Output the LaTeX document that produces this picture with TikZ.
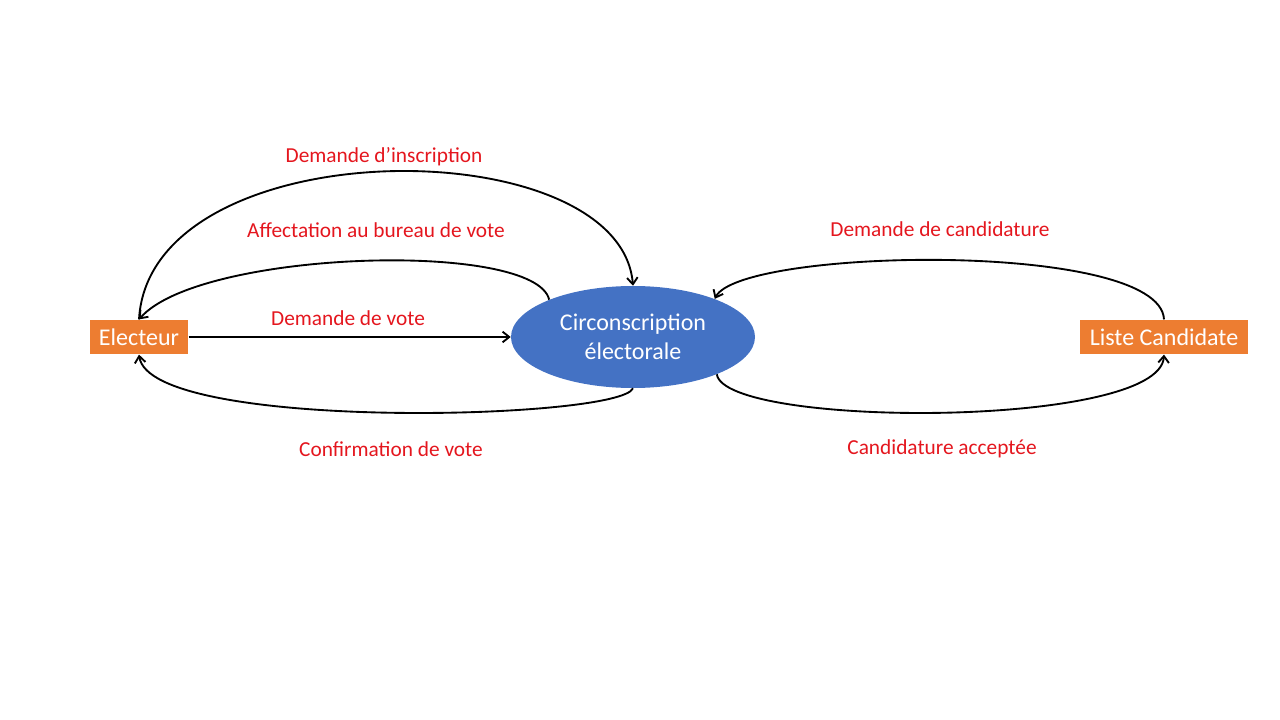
\documentclass[tikz,border=0pt]{standalone}
\usepackage{fontspec}
\setmainfont{Carlito}
\usepackage{xcolor}
\usepackage{tikz}
\usetikzlibrary{shapes.geometric,arrows.meta,positioning}

\definecolor{orangebox}{HTML}{ED7D31}
\definecolor{bleuproc}{HTML}{4472C4}
\definecolor{rougelib}{RGB}{228,22,30}

\begin{document}
\begin{tikzpicture}[
	x=0.75pt, y=-0.75pt,
	>={Straight Barb[length=5pt,width=8pt]},
	acteur/.style={rectangle, fill=orangebox, text=white, font=\fontsize{18}{21.6}\selectfont, minimum height=26pt, inner xsep=7pt, inner ysep=0pt},
	processus/.style={ellipse, fill=bleuproc, text=white, font=\fontsize{18}{21.6}\selectfont, minimum width=183pt, minimum height=76.5pt, inner sep=0pt, align=center},
	lib/.style={text=rougelib, font=\fontsize{16}{19.2}\selectfont},
	flux/.style={->, line width=1.4pt, black},
]
\useasboundingbox (0,0) rectangle (1280,720);
% Acteurs et processus
\node[acteur] (elec) at (139,337) {Electeur};
\node[processus] (circ) at (633,337) {Circonscription\\électorale};
\node[acteur] (liste) at (1164,337) {Liste Candidate};
% Libellés des flux
\node[lib] (l1) at (384,157) {Demande d’inscription};
\node[lib] (l2) at (376,230) {Affectation au bureau de vote};
\node[lib] (l3) at (348,318) {Demande de vote};
\node[lib] (l4) at (391,449) {Confirmation de vote};
\node[lib] (l5) at (940,229) {Demande de candidature};
\node[lib] (l6) at (942,449) {Candidature acceptée};
% Flux entre electeur et circonscription
\draw[flux] (elec.north) .. controls (150,128) and (620,128) .. (circ.north);
\draw[flux] (circ.156) .. controls (535,240) and (200,250) .. (elec.north);
\draw[flux] (elec.east) -- (circ.west);
\draw[flux] (circ.south) .. controls (620,420) and (150,432) .. (elec.south);
% Flux entre liste et circonscription
\draw[flux] (liste.north) .. controls (1160,240) and (740,248) .. (circ.25);
\draw[flux] (circ.-24) .. controls (725,428) and (1160,429) .. (liste.south);
\end{tikzpicture}
\end{document}
